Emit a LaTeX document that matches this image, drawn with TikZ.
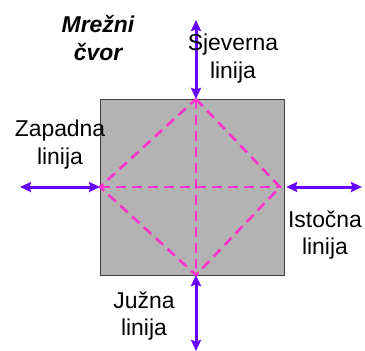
\documentclass[tikz,border=0pt]{standalone}
\usepackage{fontspec}
\setmainfont{Liberation Sans}
\usetikzlibrary{arrows.meta, positioning, calc}
\definecolor{ljubicasta}{RGB}{102,0,255}
\definecolor{ruzicasta}{RGB}{255,51,204}
\definecolor{siva}{RGB}{179,179,179}
\begin{document}
\begin{tikzpicture}[x=1bp, y=-1bp,
	linija/.style={draw=ljubicasta, line width=3bp, {Stealth[length=11bp,width=10bp,inset=1.5bp]}-{Stealth[length=11bp,width=10bp,inset=1.5bp]}},
	veza/.style={draw=ruzicasta, line width=2.6bp, dash pattern=on 10bp off 6bp},
	natpis/.style={align=center, inner sep=0pt, font=\fontsize{23}{28}\selectfont}]
	\useasboundingbox (0,0) rectangle (365,351);
	\node at (192,187) [draw=black!75, fill=siva, minimum width=184bp, minimum height=176bp, inner sep=0pt] (cvor) {};
	\coordinate (sj) at (196,99);
	\coordinate (ju) at (196,275);
	\coordinate (za) at (100,187);
	\coordinate (is) at (280,187);
	\coordinate (sjKraj) at (196,20);
	\coordinate (juKraj) at (196,351);
	\coordinate (zaKraj) at (20,187);
	\coordinate (isKraj) at (362,187);
	\draw[veza] (sj) -- (is) -- (ju) -- (za) -- cycle;
	\draw[veza] (sj) -- (ju);
	\draw[veza] (za) -- (is);
	\draw[linija] (sjKraj) -- (sj);
	\draw[linija] (juKraj) -- (ju);
	\draw[linija] (zaKraj) -- (za);
	\draw[linija] (isKraj) -- ($(cvor.east)+(2,0)$);
	\node[natpis, font=\bfseries\itshape\fontsize{23}{28}\selectfont] at (98,38) (naslov) {Mrežni\\čvor};
	\node[natpis] at (233,59) (sjever) {Sjeverna\\linija};
	\node[natpis] at (60,145) (zapad) {Zapadna\\linija};
	\node[natpis] at (325,235) (istok) {Istočna\\linija};
	\node[natpis] at (144,316) (jug) {Južna\\linija};
\end{tikzpicture}
\end{document}
